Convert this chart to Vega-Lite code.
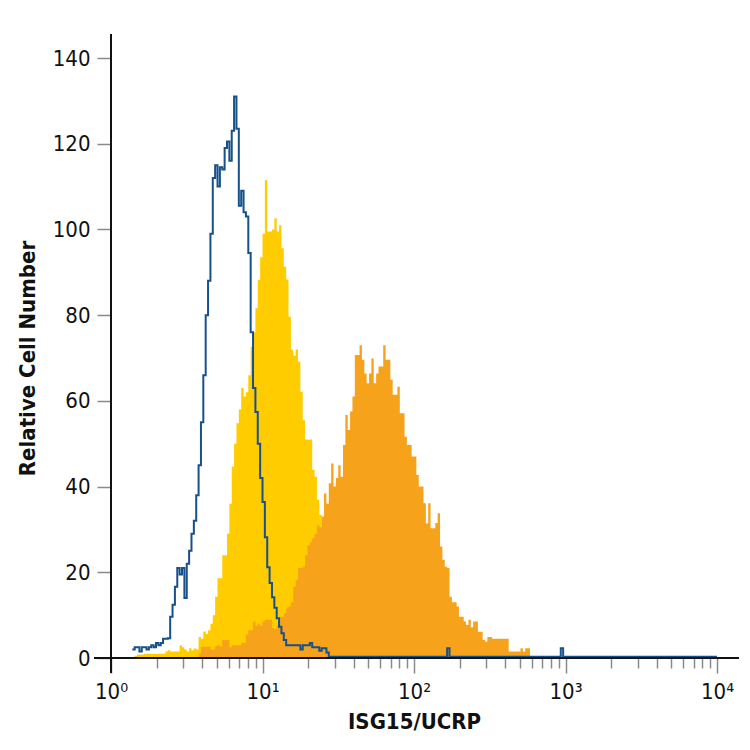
{
  "$schema": "https://vega.github.io/schema/vega-lite/v6.json",
  "width": 606,
  "height": 600,
  "autosize": {"type": "none"},
  "padding": {"left": 111, "top": 58, "right": 33, "bottom": 92},
  "background": "white",
  "config": {
    "view": {"stroke": null},
    "font": "DejaVu Sans Condensed, Roboto, sans-serif",
    "axis": {"labelFont": "DejaVu Sans Condensed, Roboto, sans-serif", "titleFont": "DejaVu Sans Condensed, Roboto, sans-serif", "labelColor": "#111", "titleColor": "#111"}
  },
  "data": {"values": [
    {"c":9,"b":2},{"c":10,"b":2.5,"y":0.5},{"c":11,"b":2.5,"y":0.8},{"c":12,"b":1.5,"y":0.8},{"c":13,"b":2.5,"y":0.8},
    {"c":14,"b":2.5,"y":1},{"c":15,"b":2,"y":1},{"c":16,"b":2.5,"y":1},{"c":17,"b":3,"y":1},{"c":18,"b":2.5,"y":1},
    {"c":19,"b":3.5,"y":1},{"c":20,"b":3,"y":1},{"c":21,"b":3.5,"y":1},{"c":22,"b":4.5,"y":1},{"c":23,"b":4.5,"y":1.5},
    {"c":24,"b":4.6,"y":1.8},{"c":25,"b":9.6,"y":1.5},{"c":26,"b":12.4,"y":1.5},{"c":27,"b":16.6,"y":1.5},{"c":28,"b":21,"y":1.5},
    {"c":29,"b":19.5,"y":3},{"c":30,"b":21,"y":2.5},{"c":31,"b":14,"y":2},{"c":32,"b":22,"y":1.5},{"c":33,"b":25,"y":2.3},
    {"c":34,"b":29,"y":1.8},{"c":35,"b":32,"y":2.2},{"c":36,"b":38,"y":2},{"c":37,"b":45,"y":4.9,"o":1},{"c":38,"b":55,"y":4.5,"o":2.6},
    {"c":39,"b":66,"y":6.2,"o":2.6},{"c":40,"b":80,"y":5.6,"o":2.6},{"c":41,"b":88,"y":6.5,"o":2.6},{"c":42,"b":99,"y":8,"o":2},{"c":43,"b":112,"y":10,"o":2},
    {"c":44,"b":115,"y":14.3,"o":2.8},{"c":45,"b":110,"y":18.6,"o":3},{"c":46,"b":114.5,"y":18.6,"o":2.7},{"c":47,"b":114,"y":24,"o":4.2},{"c":48,"b":119,"y":24,"o":4.2},
    {"c":49,"b":120.5,"y":29,"o":4.2},{"c":50,"b":116,"y":36,"o":2.5},{"c":51,"b":123,"y":44.6,"o":3},{"c":52,"b":131,"y":50,"o":3},{"c":53,"b":123.5,"y":54.8,"o":3},
    {"c":54,"b":105.5,"y":58,"o":3},{"c":55,"b":109,"y":63,"o":3.5},{"c":56,"b":104,"y":61,"o":3.5},{"c":57,"b":103,"y":62,"o":5.5},{"c":58,"b":94.5,"y":66,"o":6.5},
    {"c":59,"b":76,"y":72.6,"o":6.5},{"c":60,"b":63,"y":76,"o":8.5},{"c":61,"b":57.4,"y":81.6,"o":7.5},{"c":62,"b":50,"y":88.2,"o":8},{"c":63,"b":42,"y":93.5,"o":7.5},
    {"c":64,"b":36.4,"y":99,"o":8.5},{"c":65,"b":28.2,"y":111.5,"o":8.9},{"c":66,"b":21.2,"y":99.5,"o":8.9},{"c":67,"b":17.5,"y":99.5,"o":8.9},{"c":68,"b":14.2,"y":100,"o":7},
    {"c":69,"b":11.7,"y":102.6,"o":6.7},{"c":70,"b":9.3,"y":99.5,"o":7.5},{"c":71,"b":7.3,"y":101,"o":9.6},{"c":72,"b":5.8,"y":95.6,"o":9.6},{"c":73,"b":4.2,"y":91.3,"o":10.5},
    {"c":74,"b":3,"y":88.3,"o":11.6},{"c":75,"b":3,"y":79.6,"o":12},{"c":76,"b":3,"y":71.9,"o":13},{"c":77,"b":3,"y":70.5,"o":16.6},{"c":78,"b":3,"y":72,"o":18.2},
    {"c":79,"b":3,"y":69.1,"o":21},{"c":80,"b":2,"y":62.1,"o":21},{"c":81,"b":3,"y":55.5,"o":21.3},{"c":82,"b":3,"y":51,"o":24},{"c":83,"b":3,"y":50.9,"o":26.3},
    {"c":84,"b":3.5,"y":51,"o":27},{"c":85,"b":2.5,"y":43.9,"o":28},{"c":86,"b":2.5,"y":42.3,"o":29},{"c":87,"b":2.5,"y":36.9,"o":31},{"c":88,"b":1.7,"y":33.4,"o":30.5},
    {"c":89,"b":2.3,"y":30,"o":33},{"c":90,"b":2.3,"y":26,"o":38.4},{"c":91,"b":1.3,"y":21,"o":36},{"c":92,"b":0.3,"y":16,"o":40.8},{"c":93,"b":0.3,"y":12,"o":45.4},
    {"c":94,"b":0.3,"y":9,"o":40},{"c":95,"b":0.3,"y":6,"o":42},{"c":96,"b":0.3,"y":4,"o":45},{"c":97,"b":0.3,"y":3,"o":42.3},{"c":98,"b":0.3,"y":2,"o":49.7},
    {"c":99,"b":0.3,"y":1,"o":56.7},{"c":100,"b":0.3,"y":0,"o":53.2},{"c":101,"b":0.3,"o":57.5},{"c":102,"b":0.3,"o":61},{"c":103,"b":0.3,"o":70.7},
    {"c":104,"b":0.3,"o":70.7},{"c":105,"b":0.3,"o":73},{"c":106,"b":0.3,"o":69.6},{"c":107,"b":0.3,"o":66.4},{"c":108,"b":0.3,"o":64.1},
    {"c":109,"b":0.3,"o":66.4},{"c":110,"b":0.3,"o":69.9},{"c":111,"b":0.3,"o":64.1},{"c":112,"b":0.3,"o":66.4},{"c":113,"b":0.3,"o":68},
    {"c":114,"b":0.3,"o":68},{"c":115,"b":0.3,"o":73},{"c":116,"b":0.3,"o":69.6},{"c":117,"b":0.3,"o":69.6},{"c":118,"b":0.3,"o":64.9},
    {"c":119,"b":0.3,"o":61.4},{"c":120,"b":0.3,"o":61.4},{"c":121,"b":0.3,"o":63.3},{"c":122,"b":0.3,"o":57.1},{"c":123,"b":0.3,"o":57.1},
    {"c":124,"b":0.3,"o":51.6},{"c":125,"b":0.3,"o":49.7},{"c":126,"b":0.3,"o":49.7},{"c":127,"b":0.3,"o":47},{"c":128,"b":0.3,"o":47},
    {"c":129,"b":0.3,"o":42.7},{"c":130,"b":0.3,"o":40},{"c":131,"b":0.3,"o":40},{"c":132,"b":0.3,"o":36.1},{"c":133,"b":0.3,"o":31.4},
    {"c":134,"b":0.3,"o":36.1},{"c":135,"b":0.3,"o":30.3},{"c":136,"b":0.3,"o":30.3},{"c":137,"b":0.3,"o":31.5},{"c":138,"b":0.3,"o":33.8},
    {"c":139,"b":0.3,"o":26},{"c":140,"b":0.3,"o":22.9},{"c":141,"b":0.3,"o":21.3},{"c":142,"b":2.3,"o":21},{"c":143,"b":0.3,"o":14.3},
    {"c":144,"b":0.3,"o":13},{"c":145,"b":0.3,"o":13},{"c":146,"b":0.3,"o":12},{"c":147,"b":0.3,"o":9.6},{"c":148,"b":0.3,"o":9.6},
    {"c":149,"b":0.3,"o":8.5},{"c":150,"b":0.3,"o":7.7},{"c":151,"b":0.3,"o":8.9},{"c":152,"b":0.3,"o":7.2},{"c":153,"b":0.3,"o":8.5},
    {"c":154,"b":0.3,"o":8.5},{"c":155,"b":0.3,"o":6.1},{"c":156,"b":0.3,"o":6.1},{"c":157,"b":0.3,"o":4.2},{"c":158,"b":0.3,"o":3.8},
    {"c":159,"b":0.3,"o":4.9},{"c":160,"b":0.3,"o":4.9},{"c":161,"b":0.3,"o":4.5},{"c":162,"b":0.3,"o":4.5},{"c":163,"b":0.3,"o":4.5},
    {"c":164,"b":0.3,"o":4.5},{"c":165,"b":0.3,"o":4.5},{"c":166,"b":0.3,"o":4.5},{"c":167,"b":0.3,"o":4.5},{"c":168,"b":0.3,"o":1.5},
    {"c":169,"b":0.3,"o":1.5},{"c":170,"b":0.3,"o":1.5},{"c":171,"b":0.3,"o":1.5},{"c":172,"b":0.3,"o":1.5},{"c":173,"b":0.3,"o":2.3},
    {"c":174,"b":0.3,"o":1.5},{"c":175,"b":0.3,"o":2.3},{"c":176,"b":0.3,"o":2.3},{"c":177,"b":0.3,"o":0},{"c":178,"b":0.3},
    {"c":179,"b":0.3},{"c":180,"b":0.3},{"c":181,"b":0.3},{"c":182,"b":0.3},{"c":183,"b":0.3},{"c":184,"b":0.3},{"c":185,"b":0.3},
    {"c":186,"b":0.3},{"c":187,"b":0.3},{"c":188,"b":0.3},{"c":189,"b":0.3},{"c":190,"b":2.3},{"c":191,"b":0.3},{"c":192,"b":0.3},
    {"c":193,"b":0.3},{"c":194,"b":0.3},{"c":195,"b":0.3},{"c":196,"b":0.3},{"c":197,"b":0.3},{"c":198,"b":0.3},{"c":199,"b":0.3},
    {"c":200,"b":0.3},{"c":201,"b":0.3},{"c":202,"b":0.3},{"c":203,"b":0.3},{"c":204,"b":0.3},{"c":205,"b":0.3},{"c":206,"b":0.3},
    {"c":207,"b":0.3},{"c":208,"b":0.3},{"c":209,"b":0.3},{"c":210,"b":0.3},{"c":211,"b":0.3},{"c":212,"b":0.3},{"c":213,"b":0.3},
    {"c":214,"b":0.3},{"c":215,"b":0.3},{"c":216,"b":0.3},{"c":217,"b":0.3},{"c":218,"b":0.3},{"c":219,"b":0.3},{"c":220,"b":0.3},
    {"c":221,"b":0.3},{"c":222,"b":0.3},{"c":223,"b":0.3},{"c":224,"b":0.3},{"c":225,"b":0.3},{"c":226,"b":0.3},{"c":227,"b":0.3},
    {"c":228,"b":0.3},{"c":229,"b":0.3},{"c":230,"b":0.3},{"c":231,"b":0.3},{"c":232,"b":0.3},{"c":233,"b":0.3},{"c":234,"b":0.3},
    {"c":235,"b":0.3},{"c":236,"b":0.3},{"c":237,"b":0.3},{"c":238,"b":0.3},{"c":239,"b":0.3},{"c":240,"b":0.3},{"c":241,"b":0.3},
    {"c":242,"b":0.3},{"c":243,"b":0.3},{"c":244,"b":0.3},{"c":245,"b":0.3},{"c":246,"b":0.3},{"c":247,"b":0.3},{"c":248,"b":0.3},
    {"c":249,"b":0.3},{"c":250,"b":0.3},{"c":251,"b":0.3},{"c":252,"b":0.3},{"c":253,"b":0.3},{"c":254,"b":0.3},{"c":255,"b":0.3},
    {"c":256,"b":0.3}
  ]},
  "resolve": {"axis": {"x": "independent"}},
  "layer": [
    {
      "mark": {"type": "area", "interpolate": "step-after", "color": "#FFCC00"},
      "encoding": {
        "x": {"field": "c", "type": "quantitative", "title": "ISG15/UCRP", "scale": {"domain": [0, 256], "nice": false, "zero": false},
          "axis": {
            "orient": "bottom",
            "values": [0, 64, 128, 192, 256],
            "domain": false, "grid": false,
            "tickColor": "#8a8a8a", "tickWidth": 1.5, "tickSize": 15,
            "labelExpr": "'10' + ['⁰','¹','²','³','⁴'][round(datum.value/64)]",
            "labelFontSize": 22, "labelPadding": 8, "labelFlush": false, "labelOverlap": false,
            "title": "ISG15/UCRP", "titleFontSize": 22, "titleFontWeight": "bold", "titlePadding": 9
          }},
        "y": {"field": "y", "type": "quantitative", "title": "Relative Cell Number", "scale": {"domain": [0, 140], "nice": false, "zero": false},
          "axis": {
            "values": [0,20,40,60,80,100,120,140],
            "domain": false, "grid": false,
            "tickColor": "#8a8a8a", "tickWidth": 1.5, "tickSize": 14,
            "labelFontSize": 22, "labelPadding": 7,
            "title": "Relative Cell Number", "titleFontSize": 22, "titleFontWeight": "bold", "titlePadding": 13
          }}
      }
    },
    {
      "mark": {"type": "area", "interpolate": "step-after", "color": "#F7A21B"},
      "encoding": {
        "x": {"field": "c", "type": "quantitative",
          "axis": {
            "orient": "bottom",
            "values": [19.27,30.54,38.53,44.73,49.8,54.09,57.8,61.07,83.27,94.54,102.53,108.73,113.8,118.09,121.8,125.07,147.27,158.54,166.53,172.73,177.8,182.09,185.8,189.07,211.27,222.54,230.53,236.73,241.8,246.09,249.8,253.07],
            "domain": false, "grid": false, "labels": false, "title": null,
            "tickColor": "#8a8a8a", "tickWidth": 1.5, "tickSize": 10
          }},
        "y": {"field": "o", "type": "quantitative", "title": "Relative Cell Number"}
      }
    },
    {
      "mark": {"type": "line", "interpolate": "step-after", "color": "#17508B", "strokeWidth": 2},
      "encoding": {
        "x": {"field": "c", "type": "quantitative", "axis": null},
        "y": {"field": "b", "type": "quantitative", "title": "Relative Cell Number"}
      }
    },
    {
      "mark": {"type": "rule", "color": "#111", "strokeWidth": 2},
      "encoding": {
        "x": {"datum": -6.8, "type": "quantitative", "axis": null},
        "x2": {"datum": 264.9},
        "y": {"datum": 0, "type": "quantitative"}
      }
    },
    {
      "mark": {"type": "rule", "color": "#111", "strokeWidth": 2},
      "encoding": {
        "x": {"datum": 0, "type": "quantitative", "axis": null},
        "y": {"datum": -3.5, "type": "quantitative"},
        "y2": {"datum": 145.4}
      }
    }
  ]
}
